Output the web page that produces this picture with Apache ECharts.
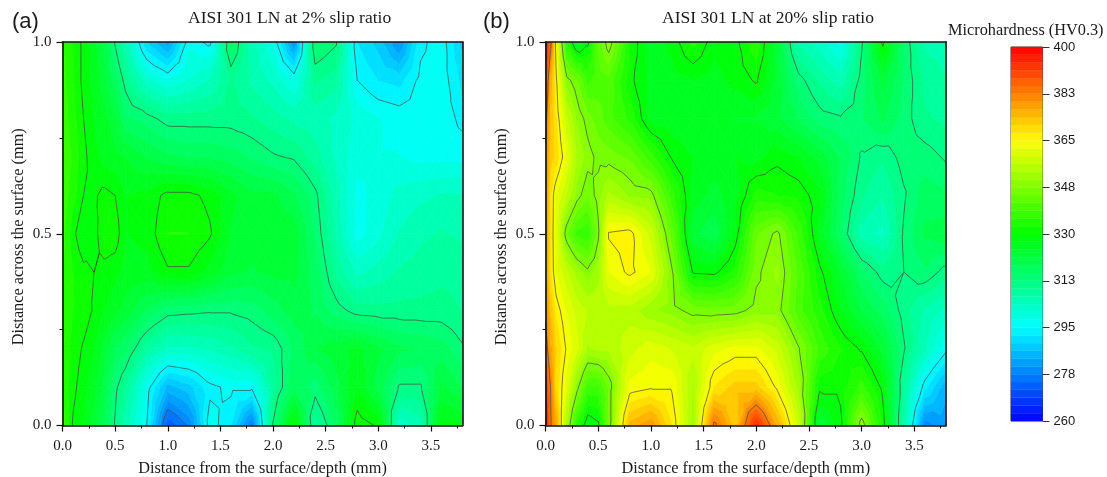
<!DOCTYPE html>
<html><head><meta charset="utf-8">
<style>html,body{margin:0;padding:0;background:#fff}#c{width:1107px;height:477px;filter:blur(0.4px)}</style>
<script src="https://cdn.jsdelivr.net/npm/echarts@6/dist/echarts.min.js"></script>
</head><body><div id="c"></div>
<script>
// Shared row positions (mm across the surface)
const rowsY = [0, 0.1, 0.2, 0.3, 0.4, 0.5, 0.6, 0.7, 0.8, 0.9, 1.0];

// Panel (a): column positions and one row of HV0.3 readings per rowsY
const columnsA = [0,0.1,0.2,0.3,0.4,0.5,0.6,0.8,1.0,1.2,1.4,1.6,1.8,2.0,2.2,2.4,2.6,2.8,3.0,3.2,3.4,3.6,3.8];
const aY00 = [338,329.5,327,323,318,312,305,295,272,278,297,292,277,313,330,308,316,332,329.5,302,305,328,328];
const aY01 = [335,331,328,325,320,313.5,309,297,285,288,294,296,296,308,318,314,320,327,320,312,312,322,318];
const aY02 = [335,332,329.5,327,323,318,316,308,303,303,304,306,309,310,316,321,323,325,322,319,318,317,313];
const aY03 = [335,333,332,329.5,327,325,323,318,314,313.5,313,313,314,317,320,318,314,311,310.5,310.5,310.5,310.5,309.5];
const aY04 = [336,333,331,330,329,328,326,326,329.5,329.5,326,322,321,322,322,317,309,303,305,307,308,309,309];
const aY05 = [337,331,327,329,332,332,327,328,333,333,330.5,324,322,323,323,315,306,296.5,300,304,306,307,306];
const aY06 = [338,334,330,329.5,331,330,327,328,331,331,329,325,322,322,319,313.5,305,297,299,302,303,304,304];
const aY07 = [339,335,331,328,326,325,324,321,319,318,318,317,315,313,312,308,303,299,298,298,297,297,297];
const aY08 = [338,334,330,327,325,322,316,314,311,311,311,311,310,308,306,305,303,300,298,297,296,297,294];
const aY09 = [337,333,329,326,322,317,311,302,298,301,304,310,306,303,298,310,308,295,292,291,296,297,291];
const aY10 = [336,333,329,325,320,312,305,289,282,297,294,317,305,298,280,316,313,292,288,280,294,297,288];

// Panel (b)
const columnsB = [0,0.05,0.1,0.2,0.3,0.4,0.5,0.6,0.8,1.0,1.2,1.4,1.6,1.8,2.0,2.2,2.4,2.6,2.8,3.0,3.2,3.4,3.6,3.8];
const bY00 = [398,383,377,353,335,327,329,345,375,379,368,352,384,372,395,376,358,322,329,350,332,306,279,282];
const bY01 = [392,382,370,361,349,338,338,345,363,364.5,364.5,353,368,372,372,364,352,331,331,337,329,309,293,284];
const bY02 = [386,377,371,364.5,360,353,354,354,358,361,359,357,361,363,363,358,348,338,333,329.5,323,313,304,296];
const bY03 = [381,373,367,362,358,356,356,355,355,351,349,346,345.5,346,349,349,340,334,327,321,317,311,306,303];
const bY04 = [379,368,362,357,352,348.5,352,362,366,362,348,329.5,329,334,346.5,351,341,331,324,316,311,312.5,315,311];
const bY05 = [380,368,361,345,338,336,346.5,365.5,366.5,358,343,322,319,328,344,348.5,338,326,316,305,303,313,319,320];
const bY06 = [380,368,362,356,349,345,349,354,350,349,337,326,323,326,334,333,332,328,317,310,307,312,317,316];
const bY07 = [381,372,370,362,353,349,346.5,346,344,337,329.5,327,326,327,326,329,327,323,318,312,310,314,314,312];
const bY08 = [385,373,368,357,350,346,343,340,335,326,325,325,325,324,324,322,318,314,313,315,319,314,310,309];
const bY09 = [390,375,366,349,345,338,340,341,331,326,326,327,326,328,330.5,323,314,309,305,314,322,315,309,307];
const bY10 = [398,384,363,335,325,329,342,350,333,325,328,334,328,329,335,322,306,302,297,312,331,315,306,305];

// Colour scale
const scaleMin = 260, scaleMax = 400;
const colorbarTicks = [260,277.5,295,312.5,330,347.5,365,382.5,400];
const colorStops = [[260,[0,0,255]],[295,[0,255,255]],[330,[0,255,0]],[365,[255,255,0]],[400,[255,0,0]]];
const contourLevels = [277.5,295,312.5,330,347.5,365,382.5];
const bandCount = 48;

const tableA = [aY00,aY01,aY02,aY03,aY04,aY05,aY06,aY07,aY08,aY09,aY10];
const tableB = [bY00,bY01,bY02,bY03,bY04,bY05,bY06,bY07,bY08,bY09,bY10];

function colorAt(v){
  for(let i=1;i<colorStops.length;i++){
    if(v<=colorStops[i][0]){
      const [a,ca]=colorStops[i-1],[b,cb]=colorStops[i],t=(v-a)/(b-a);
      return 'rgb('+ca.map((c,k)=>Math.round(c+(cb[k]-c)*t)).join(',')+')';
    }
  }
  return 'rgb(255,0,0)';
}
const bandStep=(scaleMax-scaleMin)/bandCount;
const bands=[];
for(let k=0;k<bandCount;k++){const lo=scaleMin+k*bandStep,hi=lo+bandStep;bands.push([lo,hi,colorAt((lo+hi)/2)]);}

function cells(xs,table){
  const out=[];
  for(let j=0;j<rowsY.length-1;j++)for(let i=0;i<xs.length-1;i++){
    out.push([xs[i],xs[i+1],rowsY[j],rowsY[j+1],table[j][i],table[j][i+1],table[j+1][i],table[j+1][i+1]]);
  }
  return out;
}
function triangles(api){
  const x0=api.value(0),x1=api.value(1),y0=api.value(2),y1=api.value(3);
  const a=[x0,y0,api.value(4)],b=[x1,y0,api.value(5)],c=[x0,y1,api.value(6)],d=[x1,y1,api.value(7)];
  const m=[(x0+x1)/2,(y0+y1)/2,(a[2]+b[2]+c[2]+d[2])/4];
  return [[a,b,m],[b,d,m],[d,c,m],[c,a,m]];
}
function clip(poly,level,keepAbove){
  const out=[];
  for(let i=0;i<poly.length;i++){
    const p=poly[i],q=poly[(i+1)%poly.length];
    const pin=keepAbove?p[2]>=level:p[2]<=level,qin=keepAbove?q[2]>=level:q[2]<=level;
    if(pin)out.push(p);
    if(pin!==qin){const t=(level-p[2])/(q[2]-p[2]);out.push([p[0]+(q[0]-p[0])*t,p[1]+(q[1]-p[1])*t,level]);}
  }
  return out;
}
function renderFill(params,api){
  const children=[];
  for(const tri of triangles(api)){
    const vs=tri.map(p=>p[2]),mn=Math.min(...vs),mx=Math.max(...vs);
    for(const [lo,hi,col] of bands){
      if(hi<mn||lo>mx)continue;
      let poly=clip(tri,lo,true);if(poly.length>2)poly=clip(poly,hi,false);
      if(poly.length<3)continue;
      children.push({type:'polygon',shape:{points:poly.map(p=>api.coord([p[0],p[1]]))},
        style:{fill:col,stroke:col,lineWidth:0.7},silent:true});
    }
  }
  return {type:'group',children};
}
function renderLines(params,api){
  const children=[];
  for(const tri of triangles(api)){
    for(const L of contourLevels){
      const pts=[];
      for(let i=0;i<3;i++){
        const p=tri[i],q=tri[(i+1)%3];
        if((p[2]<L)!==(q[2]<L)){const t=(L-p[2])/(q[2]-p[2]);pts.push(api.coord([p[0]+(q[0]-p[0])*t,p[1]+(q[1]-p[1])*t]));}
      }
      if(pts.length===2)children.push({type:'line',shape:{x1:pts[0][0],y1:pts[0][1],x2:pts[1][0],y2:pts[1][1]},
        style:{stroke:'#3f443f',lineWidth:0.8,opacity:0.85},silent:true});
    }
  }
  return {type:'group',children};
}

const serif='"Liberation Serif","Times New Roman",serif', sans='"Liberation Sans",Arial,sans-serif';
const inkColor='#1a1a1a';
const majorX=[0,0.5,1,1.5,2,2.5,3,3.5], minorX=[0.25,0.75,1.25,1.75,2.25,2.75,3.25,3.75];
const xName='Distance from the surface/depth (mm)', yName='Distance across the surface (mm)';
const axisLine={show:true,onZero:false,lineStyle:{color:'#111',width:1.6}};

function panelAxes(g){
  const xA=[{gridIndex:g,type:'value',min:0,max:3.8,z:5,position:'bottom',
      name:xName,nameLocation:'middle',nameGap:35,nameTextStyle:{fontFamily:serif,fontSize:16.3,color:inkColor},
      axisLine,splitLine:{show:false},
      axisTick:{show:true,customValues:majorX,length:6,lineStyle:{color:'#111',width:1.2}},
      axisLabel:{customValues:majorX,formatter:v=>v.toFixed(1),fontFamily:serif,fontSize:15,color:inkColor,margin:13}},
    {gridIndex:g,type:'value',min:0,max:3.8,z:5,position:'bottom',
      axisLine:{show:false,onZero:false},splitLine:{show:false},
      axisTick:{show:true,customValues:minorX,length:3,lineStyle:{color:'#111',width:1}},
      axisLabel:{show:false}},
    {gridIndex:g,type:'value',min:0,max:3.8,z:5,position:'top',axisLine,splitLine:{show:false},axisTick:{show:false},axisLabel:{show:false}}];
  const yA=[{gridIndex:g,type:'value',min:0,max:1,interval:0.5,z:5,position:'left',
      name:yName,nameLocation:'middle',nameGap:36,nameTextStyle:{fontFamily:serif,fontSize:16.3,color:inkColor,padding:[0,6,0,0]},
      axisLine,splitLine:{show:false},
      axisTick:{show:true,length:6,lineStyle:{color:'#111',width:1.2}},
      minorTick:{show:true,splitNumber:2,length:3,lineStyle:{color:'#111',width:1}},
      axisLabel:{formatter:v=>v.toFixed(1),fontFamily:serif,fontSize:15,color:inkColor,margin:11}},
    {gridIndex:g,type:'value',min:0,max:1,z:5,position:'right',axisLine,splitLine:{show:false},axisTick:{show:false},axisLabel:{show:false}}];
  return {xA,yA};
}
const pa=panelAxes(0), pb=panelAxes(1);
const xAxes=[...pa.xA,...pb.xA,{gridIndex:2,type:'value',min:0,max:1,show:false}];
const yAxes=[...pa.yA,...pb.yA,{gridIndex:2,type:'value',min:scaleMin,max:scaleMax,position:'right',z:5,
  axisLine:{show:false,onZero:false},splitLine:{show:false},
  axisTick:{show:true,customValues:colorbarTicks,length:7,lineStyle:{color:'#333',width:1}},
  axisLabel:{customValues:colorbarTicks,formatter:v=>String(Math.round(v+0.001)),fontFamily:sans,fontSize:13,color:inkColor,margin:11}}];

function panelSeries(xs,table,xIdx,yIdx){
  const data=cells(xs,table);
  const base={type:'custom',xAxisIndex:xIdx,yAxisIndex:yIdx,data,clip:true,animation:false,silent:true,
    encode:{x:[0,1],y:[2,3]}};
  return [Object.assign({},base,{z:2,renderItem:renderFill}),Object.assign({},base,{z:3,renderItem:renderLines})];
}
const colorbarSeries={type:'custom',xAxisIndex:6,yAxisIndex:4,z:2,animation:false,silent:true,
  data:bands.map(b=>[b[0],b[1]]),encode:{y:[0,1]},
  renderItem(params,api){
    const a=api.coord([0,api.value(0)]),b=api.coord([1,api.value(1)]);
    const col=bands[params.dataIndex][2];
    return {type:'rect',shape:{x:a[0],y:b[1],width:b[0]-a[0],height:a[1]-b[1]},style:{fill:col,stroke:col,lineWidth:0.3}};
  }};

const chart=echarts.init(document.getElementById('c'),null,{renderer:'canvas'});
chart.setOption({
  animation:false,backgroundColor:'#fff',tooltip:{show:false},
  grid:[{left:62.5,top:42,width:400,height:383.5,outerBoundsMode:'none'},{left:545.5,top:42,width:400.5,height:383.5,outerBoundsMode:'none'},
        {left:1011,top:47,width:31.5,height:374,outerBoundsMode:'none',show:true,backgroundColor:'transparent',borderColor:'#444',borderWidth:1}],
  xAxis:xAxes,yAxis:yAxes,
  title:[
    {text:'(a)',left:12,top:11,padding:0,textStyle:{fontFamily:sans,fontSize:22,fontWeight:'normal',color:inkColor}},
    {text:'(b)',left:483,top:11,padding:0,textStyle:{fontFamily:sans,fontSize:22,fontWeight:'normal',color:inkColor}},
    {text:'AISI 301 LN at 2% slip ratio',left:188,top:9,padding:0,textStyle:{fontFamily:serif,fontSize:17.5,fontWeight:'normal',color:inkColor}},
    {text:'AISI 301 LN at 20% slip ratio',left:662,top:9,padding:0,textStyle:{fontFamily:serif,fontSize:17.5,fontWeight:'normal',color:inkColor}},
    {text:'Microhardness (HV0.3)',left:948,top:23,padding:0,textStyle:{fontFamily:serif,fontSize:16.3,fontWeight:'normal',color:inkColor}}
  ],
  series:[...panelSeries(columnsA,tableA,0,0),...panelSeries(columnsB,tableB,3,2),colorbarSeries]
});
</script></body></html>
